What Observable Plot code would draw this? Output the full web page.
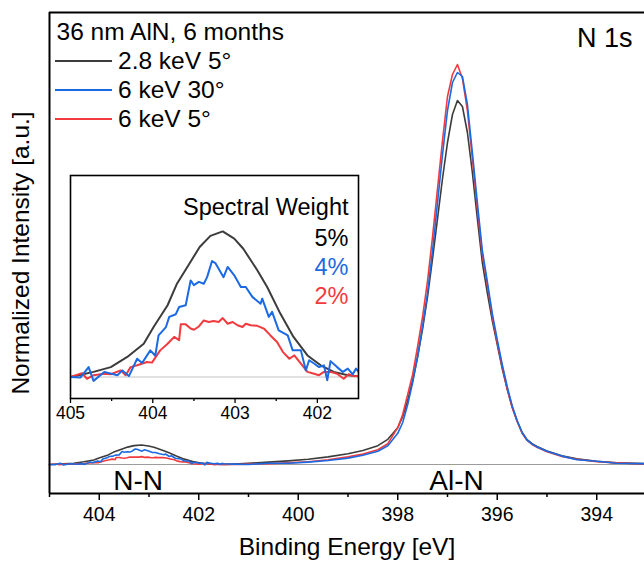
<!DOCTYPE html>
<html><head><meta charset="utf-8">
<script src="https://cdn.jsdelivr.net/npm/d3@7"></script>
<script src="https://cdn.jsdelivr.net/npm/@observablehq/plot@0.6"></script>
<style>
body{margin:0;background:#fff;}
#wrap{position:relative;width:644px;height:561px;overflow:hidden;font-family:"Liberation Sans",Arial,sans-serif;}
#wrap svg{position:absolute;left:0;top:0;}
</style></head><body><div id="wrap"></div>
<script>
// ---------- data ----------
const seriesNames = ["2.8 keV 5°", "6 keV 30°", "6 keV 5°"];
const seriesColors = ["#3c3c3c", "#1b6ae3", "#f23a3e"];
const spectralWeights = ["5%", "4%", "2%"];
const legendTitle = "36 nm AlN, 6 months";
const coreLevel = "N 1s";
const peakNames = ["N-N", "Al-N"];
const peakEnergies = [403.22, 396.82];
const xMajorTicks = [404, 402, 400, 398, 396, 394];
const xMinorTicks = [405, 403, 401, 399, 397, 395, 393];
const insetMajorTicks = [405, 404, 403, 402];
const insetMinorTicks = [404.5, 403.5, 402.5];

// N-N region (fine sampling), per series
const blackFineE = [405.0,404.86,404.72,404.51,404.31,404.11,403.99,403.82,403.71,403.58,403.43,403.30,403.15,403.01,402.90,402.73,402.61,402.45,402.29,402.12,401.96,401.80,401.63,401.50];
const blackFineV = [0.0000,0.0008,0.0017,0.0033,0.0067,0.0111,0.0167,0.0240,0.0310,0.0368,0.0435,0.0472,0.0487,0.0463,0.0429,0.0357,0.0301,0.0212,0.0134,0.0072,0.0039,0.0017,0.0006,0.0002];

const blueFineE = [405.0,404.88,404.78,404.72,404.59,404.43,404.37,404.29,404.19,404.13,404.03,403.97,403.93,403.84,403.80,403.72,403.68,403.60,403.54,403.50,403.44,403.38,403.34,403.28,403.24,403.14,403.09,403.01,402.93,402.87,402.79,402.69,402.67,402.59,402.55,402.47,402.36,402.30,402.20,402.14,402.10,402.04,401.98,401.92,401.88,401.84,401.76,401.69,401.63,401.57,401.53,401.50];
const blueFineV = [0.0000,-0.0002,0.0033,-0.0013,0.0017,0.0006,0.0022,0.0003,0.0061,0.0047,0.0089,0.0071,0.0139,0.0167,0.0201,0.0210,0.0234,0.0240,0.0323,0.0307,0.0318,0.0312,0.0334,0.0388,0.0381,0.0334,0.0368,0.0340,0.0301,0.0301,0.0268,0.0245,0.0262,0.0201,0.0218,0.0156,0.0139,0.0089,0.0089,0.0022,0.0056,0.0045,0.0033,0.0039,-0.0011,0.0053,0.0033,0.0017,0.0028,0.0009,0.0028,0.0017];

const redFineE = [405.0,404.86,404.80,404.72,404.59,404.51,404.39,404.33,404.27,404.19,404.07,404.01,403.91,403.82,403.74,403.68,403.66,403.60,403.54,403.50,403.44,403.38,403.32,403.26,403.20,403.15,403.09,403.03,402.97,402.91,402.87,402.81,402.73,402.65,402.57,402.49,402.42,402.34,402.28,402.20,402.12,402.04,401.98,401.92,401.84,401.76,401.68,401.62,401.55,401.50];
const redFineV = [0.0000,0.0013,-0.0006,0.0006,0.0011,0.0009,0.0022,0.0006,0.0033,0.0039,0.0050,0.0048,0.0089,0.0111,0.0134,0.0123,0.0176,0.0176,0.0162,0.0158,0.0169,0.0189,0.0184,0.0187,0.0184,0.0197,0.0178,0.0184,0.0173,0.0167,0.0178,0.0173,0.0171,0.0162,0.0139,0.0117,0.0084,0.0061,0.0072,0.0045,0.0017,0.0011,0.0006,0.0017,0.0017,0.0011,-0.0006,0.0009,0.0002,0.0004];

// Al-N region (coarser sampling), shared energies
const coarseE = [401.3,401.0,400.6,400.2,399.8,399.4,399.0,398.7,398.4,398.2,398.0,397.9,397.8,397.7,397.6,397.5,397.4,397.3,397.2,397.1,397.0,396.9,396.8,396.7,396.6,396.5,396.4,396.3,396.2,396.1,396.0,395.9,395.8,395.7,395.6,395.5,395.4,395.3,395.2,395.0,394.7,394.4,394.0,393.6,393.0];
const blackCoarseV = [0.001,0.003,0.006,0.009,0.013,0.019,0.027,0.035,0.047,0.063,0.092,0.120,0.160,0.210,0.270,0.340,0.420,0.515,0.615,0.715,0.805,0.875,0.910,0.895,0.830,0.730,0.615,0.505,0.430,0.360,0.300,0.240,0.188,0.143,0.108,0.080,0.062,0.052,0.045,0.034,0.022,0.014,0.008,0.004,0.002];
const blueCoarseV = [0.001,0.000,0.003,0.003,0.006,0.010,0.016,0.023,0.033,0.047,0.078,0.105,0.150,0.205,0.270,0.345,0.430,0.535,0.655,0.775,0.885,0.955,0.980,0.970,0.900,0.780,0.655,0.535,0.458,0.378,0.312,0.250,0.195,0.147,0.110,0.080,0.061,0.051,0.044,0.033,0.021,0.012,0.008,0.003,0.002];
const redCoarseV = [0.000,0.001,0.002,0.004,0.007,0.012,0.019,0.026,0.037,0.052,0.092,0.125,0.175,0.225,0.295,0.370,0.460,0.570,0.690,0.810,0.920,0.975,1.000,0.965,0.885,0.765,0.640,0.525,0.450,0.370,0.305,0.245,0.190,0.143,0.108,0.078,0.060,0.050,0.043,0.032,0.020,0.013,0.007,0.004,0.001];

// ---------- build tables ----------
function build(fe, fv, cv) {
  const out = fe.map((e, i) => ({energy: e, value: fv[i]}));
  coarseE.forEach((e, i) => out.push({energy: e, value: cv[i]}));
  return out;
}
const series = [
  build(blackFineE, blackFineV, blackCoarseV),
  build(blueFineE, blueFineV, blueCoarseV),
  build(redFineE, redFineV, redCoarseV)
];
const drawOrder = [0, 2, 1];
const FONT = '"Liberation Sans", Arial, sans-serif';
const yMin = -0.0725, yMax = 1.13;
const intFmt = d3.format("d");

const main = Plot.plot({
  width: 644, height: 561,
  marginLeft: 49, marginRight: 0, marginTop: 12, marginBottom: 68,
  style: {fontFamily: FONT, background: "white", color: "black", overflow: "visible"},
  x: {domain: [405, 393.04], axis: null},
  y: {domain: [yMin, yMax], axis: null},
  marks: [
    Plot.ruleY([0], {stroke: "#9c9c9c", strokeWidth: 1}),
    ...drawOrder.map(k => Plot.line(series[k], {x: "energy", y: "value", stroke: seriesColors[k], strokeWidth: 1.6})),
    Plot.ruleX([405], {stroke: "black", strokeWidth: 2}),
    Plot.ruleY([yMin], {stroke: "black", strokeWidth: 2}),
    Plot.ruleY([yMax], {stroke: "black", strokeWidth: 2}),
    Plot.axisX({ticks: xMajorTicks, tickFormat: intFmt, tickSize: 7, tickPadding: 7, fontSize: 19.5, strokeWidth: 1.5, label: null}),
    Plot.axisX({ticks: xMinorTicks, tickSize: 4, text: null, strokeWidth: 1.5, label: null}),
    Plot.text(["Binding Energy [eV]"], {frameAnchor: "bottom", textAnchor: "middle", lineAnchor: "middle", dy: 54, fontSize: 24.5, fill: "black"}),
    Plot.text(["Normalized Intensity [a.u.]"], {frameAnchor: "left", textAnchor: "middle", lineAnchor: "middle", rotate: -90, dx: -28, fontSize: 24.5, fill: "black"}),
    Plot.text([coreLevel], {frameAnchor: "top-right", textAnchor: "end", lineAnchor: "middle", dx: -12, dy: 25.5, fontSize: 27, fill: "black"}),
    Plot.text(peakNames, {x: (d, i) => peakEnergies[i], frameAnchor: "bottom", lineAnchor: "middle", dy: -12.5, fontSize: 28, fill: "black"})
  ]
});
document.getElementById("wrap").appendChild(main);

// ---------- inset ----------
const insetYMin = -0.0072, insetYMax = 0.0674;
const inset = Plot.plot({
  width: 310, height: 270,
  marginLeft: 10, marginRight: 12, marginTop: 10, marginBottom: 37,
  style: {fontFamily: FONT, background: "transparent", color: "black", overflow: "visible"},
  x: {domain: [405, 401.5], axis: null},
  y: {domain: [insetYMin, insetYMax], axis: null},
  marks: [
    Plot.frame({fill: "white"}),
    Plot.ruleY([0], {stroke: "#c4c4c4", strokeWidth: 1.2}),
    ...drawOrder.map(k => Plot.line(series[k], {x: "energy", y: "value", stroke: seriesColors[k], strokeWidth: 2, clip: true})),
    Plot.frame({stroke: "black", strokeWidth: 1.6}),
    Plot.axisX({ticks: insetMajorTicks, tickFormat: intFmt, tickSize: 5, tickPadding: 3, fontSize: 17.5, strokeWidth: 1.3, label: null}),
    Plot.axisX({ticks: insetMinorTicks, tickSize: 3, text: null, strokeWidth: 1.3, label: null}),
    Plot.text(["Spectral Weight"], {frameAnchor: "top-right", textAnchor: "end", lineAnchor: "middle", dx: -10, dy: 32, fontSize: 23.5, fill: "black"}),
    ...spectralWeights.map((w, i) => Plot.text([w], {frameAnchor: "top-right", textAnchor: "end", lineAnchor: "middle", dx: -10, dy: 63 + 29 * i, fontSize: 23.5, fill: i === 0 ? "black" : seriesColors[i]}))
  ]
});
inset.style.left = "60px";
inset.style.top = "165px";
document.getElementById("wrap").appendChild(inset);

// ---------- legend (overlay) ----------
const leg = d3.select("#wrap").append("svg")
  .attr("width", 320).attr("height", 140)
  .style("font-family", FONT).style("overflow", "visible");
leg.append("text").attr("x", 56.5).attr("y", 39.5).attr("font-size", 24.5).text(legendTitle);
seriesNames.forEach((name, i) => {
  const base = 69 + 29 * i;
  leg.append("line").attr("x1", 55).attr("x2", 112).attr("y1", base - 8).attr("y2", base - 8)
    .attr("stroke", seriesColors[i]).attr("stroke-width", 2);
  leg.append("text").attr("x", 118).attr("y", base).attr("font-size", 24.5).text(name);
});
</script>
</body></html>
